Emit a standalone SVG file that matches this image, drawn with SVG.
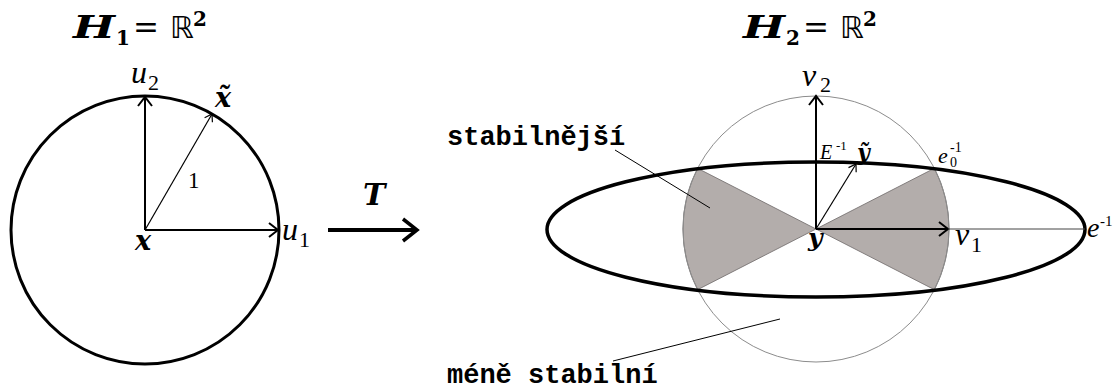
<svg xmlns="http://www.w3.org/2000/svg" width="1115" height="390" viewBox="0 0 1115 390">
<style>
.mi{font-family:"Liberation Serif",serif;font-style:italic;fill:#000}
.rm{font-family:"Liberation Serif",serif;fill:#000}
.bi{font-family:"DejaVu Serif",serif;font-style:italic;font-weight:bold;fill:#000}
.bd{font-family:"DejaVu Serif",serif;font-weight:bold;fill:#000}
.eq{font-family:"DejaVu Serif",serif;fill:#000}
.ds{font-family:"DejaVu Sans",sans-serif;fill:#000}
.mono{font-family:"Liberation Mono","Courier New",monospace;font-weight:bold;font-size:27px;fill:#000}
.ax{stroke:#000;stroke-width:2;fill:none}
.thin{stroke:#000;stroke-width:1.2;fill:none}
.lead{stroke:#000;stroke-width:1;fill:none}
.sec{fill:#b3adab;stroke:#6f6a69;stroke-width:0.8}
</style>
<defs>
<marker id="ah" markerUnits="userSpaceOnUse" markerWidth="14" markerHeight="18" refX="10" refY="8" orient="auto" overflow="visible">
<path d="M1,1 L10,8 L1,15" fill="none" stroke="#000" stroke-width="2"/>
</marker>
<marker id="ahs" markerUnits="userSpaceOnUse" markerWidth="12" markerHeight="12" refX="8" refY="5" orient="auto" overflow="visible">
<path d="M1,0.5 L8,5 L1,9.5" fill="none" stroke="#000" stroke-width="1.2"/>
</marker>
<marker id="ahb" markerUnits="userSpaceOnUse" markerWidth="20" markerHeight="28" refX="16" refY="12" orient="auto" overflow="visible">
<path d="M2,1 L16,12 L2,23" fill="none" stroke="#000" stroke-width="3.5"/>
</marker>
</defs>

<g id="title1">
<text class="bi" x="73" y="38" font-size="32" textLength="42" lengthAdjust="spacingAndGlyphs">H</text>
<text class="bd" x="116" y="45" font-size="20">1</text>
<text class="eq" x="133" y="38" font-size="32" textLength="26" lengthAdjust="spacingAndGlyphs">=</text>
<text class="ds" x="170" y="38" font-size="30">ℝ</text>
<text class="bd" x="193" y="26" font-size="20">2</text>
</g>
<g id="title2">
<text class="bi" x="743" y="38" font-size="32" textLength="42" lengthAdjust="spacingAndGlyphs">H</text>
<text class="bd" x="786" y="45" font-size="20">2</text>
<text class="eq" x="803" y="38" font-size="32" textLength="26" lengthAdjust="spacingAndGlyphs">=</text>
<text class="ds" x="840" y="38" font-size="30">ℝ</text>
<text class="bd" x="863" y="26" font-size="20">2</text>
</g>

<g id="space1">
<circle cx="145" cy="230" r="134" fill="none" stroke="#000" stroke-width="3"/>
</g>

<g id="space2">
<path class="sec" d="M816,229 L934.4,168.3 A133,133 0 0 1 934.4,289.7 Z"/>
<path class="sec" d="M816,229 L697.6,168.3 A133,133 0 0 0 697.6,289.7 Z"/>
<circle cx="816" cy="229" r="133" fill="none" stroke="#8c8c8c" stroke-width="1"/>
<ellipse cx="816" cy="229.5" rx="269" ry="67.5" fill="none" stroke="#000" stroke-width="3.5"/>
</g>

<g id="connectors">
<line class="ax" x1="145" y1="230" x2="145" y2="97" marker-end="url(#ah)"/>
<line class="ax" x1="145" y1="230" x2="278" y2="230" marker-end="url(#ah)"/>
<line class="thin" x1="145" y1="230" x2="212" y2="114" marker-end="url(#ahs)"/>
<line x1="328" y1="230" x2="417" y2="230" stroke="#000" stroke-width="4" marker-end="url(#ahb)"/>
<line class="ax" x1="816" y1="229" x2="816" y2="96" marker-end="url(#ah)"/>
<line class="ax" x1="816" y1="229" x2="948" y2="229" marker-end="url(#ah)"/>
<line x1="948" y1="229" x2="1085" y2="229" stroke="#444" stroke-width="1"/>
<line class="thin" x1="816" y1="229" x2="856" y2="164" marker-end="url(#ahs)"/>
<line class="lead" x1="615" y1="150" x2="710" y2="208"/>
<line class="lead" x1="613" y1="361" x2="780" y2="319"/>
</g>

<g id="labels1">
<text class="mi" x="131" y="83" font-size="32">u</text>
<text class="rm" x="148" y="90" font-size="22">2</text>
<text class="bi" x="215" y="107" font-size="27">x̃</text>
<text class="rm" x="188" y="188" font-size="23">1</text>
<text class="bi" x="135" y="250" font-size="27">x</text>
<text class="mi" x="282" y="240" font-size="32">u</text>
<text class="rm" x="299" y="247" font-size="22">1</text>
</g>

<g id="labelT">
<text class="bi" x="363" y="205" font-size="30">T</text>
</g>

<g id="labels2">
<text class="mi" x="802" y="86" font-size="32">v</text>
<text class="rm" x="820" y="92" font-size="22">2</text>
<text class="mi" x="820" y="159" font-size="20">E</text>
<text class="rm" x="836" y="150" font-size="13">-1</text>
<text class="bi" x="857" y="160" font-size="22">ỹ</text>
<text class="mi" x="938" y="163" font-size="22">e</text>
<text class="rm" x="950" y="167" font-size="14">0</text>
<text class="rm" x="950" y="152" font-size="14">-1</text>
<text class="bi" x="808" y="246" font-size="25">y</text>
<text class="mi" x="955" y="245" font-size="32">v</text>
<text class="rm" x="971" y="252" font-size="22">1</text>
<text class="mi" x="1087" y="237" font-size="28">e</text>
<text class="rm" x="1100" y="226" font-size="15">-1</text>
</g>

<g id="note-stable">
<text class="mono" x="447" y="145">stabilnější</text>
</g>
<g id="note-less">
<text class="mono" x="447" y="383">méně stabilní</text>
</g>
</svg>
